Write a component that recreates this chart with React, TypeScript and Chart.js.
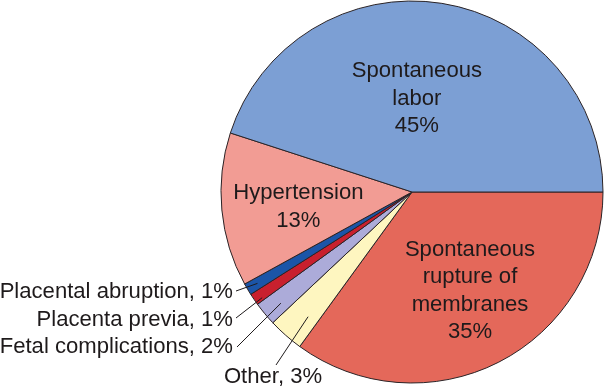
import React, { useEffect, useRef } from "react";
import { Chart, registerables } from "chart.js";

Chart.register(...registerables);

// Data (clockwise from 3 o'clock)
const categories = [
  "Spontaneous rupture of membranes",
  "Other",
  "Fetal complications",
  "Placenta previa",
  "Placental abruption",
  "Hypertension",
  "Spontaneous labor",
];
const values = [35, 3, 2, 1, 1, 13, 45];
const colors = ["#E4685A", "#FEF6C0", "#ACABD9", "#C8202E", "#1B55A8", "#F29C94", "#7C9FD4"];

// inside labels: index -> lines
const insideLabels: { index: number; lines: string[]; angle: number; frac: number }[] = [
  { index: 6, lines: ["Spontaneous", "labor", "45%"], angle: 273, frac: 0.49 },
  { index: 0, lines: ["Spontaneous", "rupture of", "membranes", "35%"], angle: 59.6, frac: 0.6 },
  { index: 5, lines: ["Hypertension", "13%"], angle: 172.5, frac: 0.6 },
];

// outside labels with leader lines
const outsideLabels: {
  index: number;
  text: string;
  tx: number;
  ty: number;
  align: CanvasTextAlign;
  lx: number;
  ly: number;
  frac: number;
  angle: number;
}[] = [
  { index: 4, text: "Placental abruption, 1%", tx: -179, ty: 100, align: "right", lx: -176, ly: 99, frac: 0.94, angle: 149.4 },
  { index: 3, text: "Placenta previa, 1%", tx: -179, ty: 128, align: "right", lx: -176, ly: 126, frac: 0.96, angle: 144.8 },
  { index: 2, text: "Fetal complications, 2%", tx: -179, ty: 155, align: "right", lx: -175, ly: 155, frac: 0.9, angle: 139.7 },
  { index: 1, text: "Other, 3%", tx: -139, ty: 185, align: "center", lx: -136, ly: 173, frac: 0.85, angle: 129.8 },
];

const FONT = '22.1px "Liberation Sans", Arial, sans-serif';
const TEXT_COLOR = "#1E1A1B";

const labelPlugin = {
  id: "pieLabels",
  afterDatasetsDraw(chart: any) {
    const meta = chart.getDatasetMeta(0);
    const ctx: CanvasRenderingContext2D = chart.ctx;
    const arc0 = meta.data[0];
    const cx = arc0.x;
    const cy = arc0.y;
    const R = arc0.outerRadius;
    ctx.save();
    ctx.font = FONT;
    ctx.fillStyle = TEXT_COLOR;
    ctx.textBaseline = "middle";
    const lh = 27.5;
    for (const l of insideLabels) {
      const a = (l.angle * Math.PI) / 180;
      const x = cx + Math.cos(a) * R * l.frac;
      const y = cy + Math.sin(a) * R * l.frac;
      ctx.textAlign = "center";
      const n = l.lines.length;
      l.lines.forEach((t, i) => {
        ctx.fillText(t, x, y + (i - (n - 1) / 2) * lh);
      });
    }
    ctx.strokeStyle = TEXT_COLOR;
    ctx.lineWidth = 1;
    for (const l of outsideLabels) {
      const a = (l.angle * Math.PI) / 180;
      const ex = cx + Math.cos(a) * R * l.frac;
      const ey = cy + Math.sin(a) * R * l.frac;
      ctx.beginPath();
      ctx.moveTo(cx + l.lx, cy + l.ly);
      ctx.lineTo(ex, ey);
      ctx.stroke();
      ctx.textAlign = l.align;
      ctx.fillText(l.text, cx + l.tx, cy + l.ty);
    }
    ctx.restore();
  },
};

export default function App() {
  const ref = useRef<HTMLCanvasElement | null>(null);
  useEffect(() => {
    if (!ref.current) return;
    const chart = new Chart(ref.current, {
      type: "pie",
      data: {
        labels: categories,
        datasets: [
          {
            data: values,
            backgroundColor: colors,
            borderColor: "#2A2326",
            borderWidth: 1,
          },
        ],
      },
      options: {
        responsive: false,
        animation: false,
        rotation: 90,
        radius: 191,
        layout: { padding: { left: 218, right: 0, top: 0, bottom: 5 } },
        plugins: {
          legend: { display: false },
          tooltip: { enabled: false },
        },
      } as any,
      plugins: [labelPlugin],
    });
    return () => chart.destroy();
  }, []);
  return (
    <div style={{ position: "fixed", left: 0, top: 0, width: 606, height: 389, background: "#fff" }}>
      <canvas ref={ref} width={606} height={389} />
    </div>
  );
}
